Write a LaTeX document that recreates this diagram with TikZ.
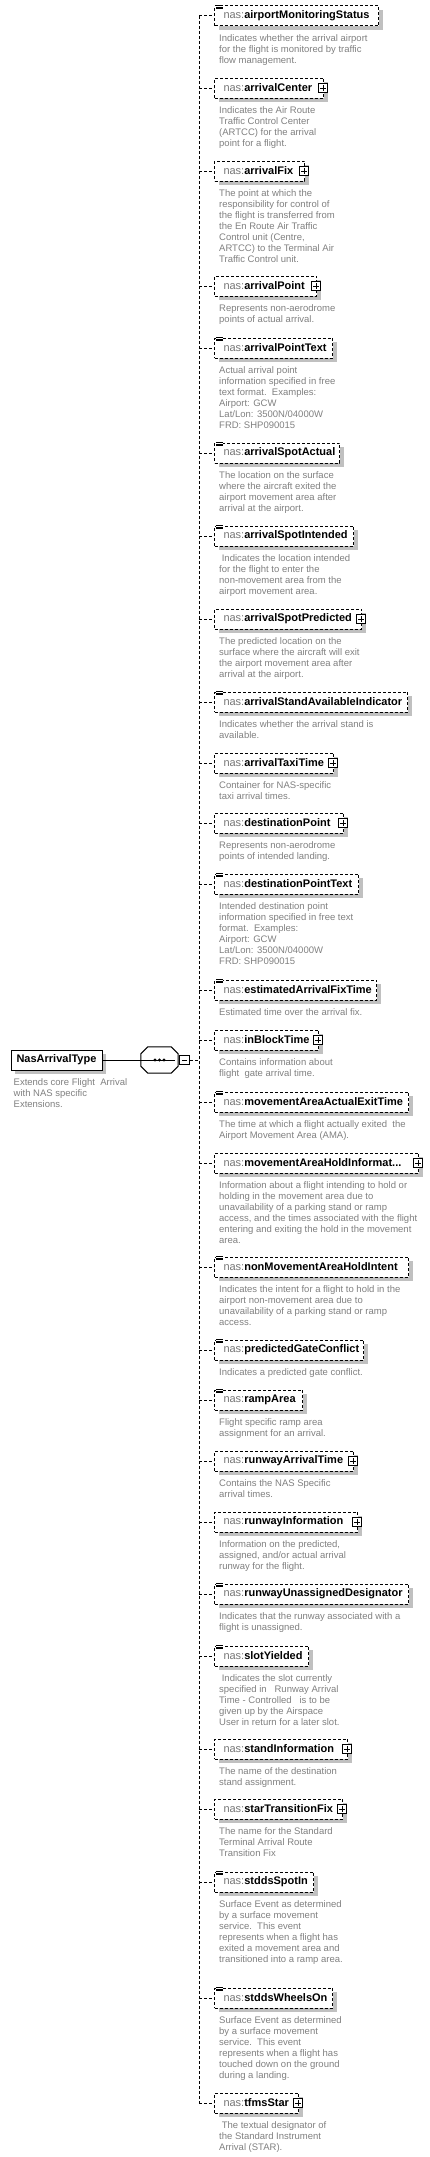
\documentclass[tikz,border=0pt]{standalone}
\usepackage{fontspec}
\setmainfont{Liberation Sans}
\usetikzlibrary{positioning,shadows}
\definecolor{nasgray}{RGB}{118,118,118}
\definecolor{descgray}{RGB}{128,128,128}
\definecolor{shadegray}{RGB}{192,192,192}

\begin{document}
\begin{tikzpicture}[
    x=1pt, y=-1pt,
    link/.style={line width=1pt, dash pattern=on 3pt off 2pt},
    shade/.style={drop shadow={shadow xshift=4pt, shadow yshift=-4pt, fill=shadegray, draw=none, opacity=1}},
    elem/.style={draw, link, fill=white, shade, anchor=west, minimum height=20pt,
      inner xsep=0pt, inner ysep=0pt, text width=#1, align=left,
      font=\fontsize{11pt}{13pt}\selectfont,
      execute at begin node={\hyphenpenalty=10000\hspace*{9pt}\textcolor{nasgray}{nas:}\bfseries}},
    desc/.style={text=descgray, align=left, inner sep=0pt, font=\fontsize{9.5pt}{11pt}\selectfont},
    plusbox/.style={draw, solid, line width=1pt, fill=white, minimum size=9.5pt, inner sep=0pt,
      path picture={\draw[solid, line width=1pt]
        ([xshift=2pt]path picture bounding box.west) -- ([xshift=-2pt]path picture bounding box.east)
        ([yshift=-2pt]path picture bounding box.north) -- ([yshift=2pt]path picture bounding box.south);}},
    minusbox/.style={draw, solid, line width=1pt, fill=white, minimum size=9.5pt, inner sep=0pt,
      path picture={\draw[solid, line width=1pt]
        ([xshift=2pt]path picture bounding box.west) -- ([xshift=-2pt]path picture bounding box.east);}},
    simplemark/.style={fill=white, minimum width=7pt, minimum height=5pt, inner sep=0pt, anchor=north west,
      path picture={\foreach \k in {0.9,2.5,4.1}
        \draw[solid, line width=0.7pt] ([yshift=-\k pt]path picture bounding box.north west) -- ([yshift=-\k pt]path picture bounding box.north east);}},
    typebox/.style={draw, solid, line width=1pt, fill=white, shade, minimum width=91pt, minimum height=20pt,
      inner sep=0pt, font=\fontsize{11pt}{13pt}\selectfont\bfseries},
    seqbox/.style={minimum width=37pt, minimum height=26pt, inner sep=0pt},
  ]
    \useasboundingbox (0,0) rectangle (430,2157);

    % Complex type and its sequence
    \node[typebox] (nasType) at (56.5,1060) {NasArrivalType};
    \node[desc, below right=8pt and 3pt of nasType.south west] (nasTypeNote) {Extends core Flight\ \ Arrival\\with NAS specific\\Extensions.};
    \node[seqbox] (seq) at (159.5,1060) {};
    \fill[shadegray, shift={(4,4)}] ([xshift=7pt]seq.north west) -- ([xshift=-7pt]seq.north east) -- ([yshift=-7pt]seq.north east)
      -- ([yshift=7pt]seq.south east) -- ([xshift=-7pt]seq.south east) -- ([xshift=7pt]seq.south west)
      -- ([yshift=7pt]seq.south west) -- ([yshift=-7pt]seq.north west) -- cycle;
    \filldraw[fill=white, line width=1pt] ([xshift=7pt]seq.north west) -- ([xshift=-7pt]seq.north east) -- ([yshift=-7pt]seq.north east)
      -- ([yshift=7pt]seq.south east) -- ([xshift=-7pt]seq.south east) -- ([xshift=7pt]seq.south west)
      -- ([yshift=7pt]seq.south west) -- ([yshift=-7pt]seq.north west) -- cycle;
    \draw[line width=1pt] (nasType.east) -- (seq.west);
    \draw[line width=1pt] (seq.west) -- ([xshift=-3pt]seq.east);
    \foreach \dx in {-4.5,0,4.5}
      \fill ([xshift=\dx pt]seq.center) circle (1.6pt);
    \node[minusbox] (seqMinus) at (184.5,1060) {};
    \coordinate (spine) at (199,1060);

    % Child elements
    \node[elem=164pt] (airportMonitoringStatus) at (214,16) {airportMonitoringStatus};
    \node[simplemark] (airportMonitoringStatusMark) at ([xshift=2pt, yshift=1pt]airportMonitoringStatus.north west) {};
    \node[desc, below right=8pt and 5pt of airportMonitoringStatus.south west] (airportMonitoringStatusNote) {Indicates whether the arrival airport\\for the flight is monitored by traffic\\flow management.};

    \node[elem=109pt] (arrivalCenter) at (214,88) {arrivalCenter};
    \node[plusbox] (arrivalCenterPlus) at ([xshift=-1pt]arrivalCenter.east) {};
    \node[desc, below right=8pt and 5pt of arrivalCenter.south west] (arrivalCenterNote) {Indicates the Air Route\\Traffic Control Center\\(ARTCC) for the arrival\\point for a flight.};

    \node[elem=90pt] (arrivalFix) at (214,171) {arrivalFix};
    \node[plusbox] (arrivalFixPlus) at ([xshift=-1pt]arrivalFix.east) {};
    \node[desc, below right=8pt and 5pt of arrivalFix.south west] (arrivalFixNote) {The point at which the\\responsibility for control of\\the flight is transferred from\\the En Route Air Traffic\\Control unit (Centre,\\ARTCC) to the Terminal Air\\Traffic Control unit.};

    \node[elem=102pt] (arrivalPoint) at (214,286) {arrivalPoint};
    \node[plusbox] (arrivalPointPlus) at ([xshift=-1pt]arrivalPoint.east) {};
    \node[desc, below right=8pt and 5pt of arrivalPoint.south west] (arrivalPointNote) {Represents non-aerodrome\\points of actual arrival.};

    \node[elem=118pt] (arrivalPointText) at (214,348) {arrivalPointText};
    \node[simplemark] (arrivalPointTextMark) at ([xshift=2pt, yshift=1pt]arrivalPointText.north west) {};
    \node[desc, below right=8pt and 5pt of arrivalPointText.south west] (arrivalPointTextNote) {Actual arrival point\\information specified in free\\text format.\ \ Examples:\\Airport: GCW\\Lat/Lon: 3500N/04000W\\FRD: SHP090015};

    \node[elem=125pt] (arrivalSpotActual) at (214,453) {arrivalSpotActual};
    \node[simplemark] (arrivalSpotActualMark) at ([xshift=2pt, yshift=1pt]arrivalSpotActual.north west) {};
    \node[desc, below right=8pt and 5pt of arrivalSpotActual.south west] (arrivalSpotActualNote) {The location on the surface\\where the aircraft exited the\\airport movement area after\\arrival at the airport.};

    \node[elem=139pt] (arrivalSpotIntended) at (214,536) {arrivalSpotIntended};
    \node[simplemark] (arrivalSpotIntendedMark) at ([xshift=2pt, yshift=1pt]arrivalSpotIntended.north west) {};
    \node[desc, below right=8pt and 5pt of arrivalSpotIntended.south west] (arrivalSpotIntendedNote) {\ Indicates the location intended\\for the flight to enter the\\non-movement area from the\\airport movement area.};

    \node[elem=147pt] (arrivalSpotPredicted) at (214,619) {arrivalSpotPredicted};
    \node[plusbox] (arrivalSpotPredictedPlus) at ([xshift=-1pt]arrivalSpotPredicted.east) {};
    \node[desc, below right=8pt and 5pt of arrivalSpotPredicted.south west] (arrivalSpotPredictedNote) {The predicted location on the\\surface where the aircraft will exit\\the airport movement area after\\arrival at the airport.};

    \node[elem=193pt] (arrivalStandAvailableIndicator) at (214,702) {arrivalStandAvailableIndicator};
    \node[simplemark] (arrivalStandAvailableIndicatorMark) at ([xshift=2pt, yshift=1pt]arrivalStandAvailableIndicator.north west) {};
    \node[desc, below right=8pt and 5pt of arrivalStandAvailableIndicator.south west] (arrivalStandAvailableIndicatorNote) {Indicates whether the arrival stand is\\available.};

    \node[elem=119pt] (arrivalTaxiTime) at (214,763) {arrivalTaxiTime};
    \node[plusbox] (arrivalTaxiTimePlus) at ([xshift=-1pt]arrivalTaxiTime.east) {};
    \node[desc, below right=8pt and 5pt of arrivalTaxiTime.south west] (arrivalTaxiTimeNote) {Container for NAS-specific\\taxi arrival times.};

    \node[elem=129pt] (destinationPoint) at (214,823) {destinationPoint};
    \node[plusbox] (destinationPointPlus) at ([xshift=-1pt]destinationPoint.east) {};
    \node[desc, below right=8pt and 5pt of destinationPoint.south west] (destinationPointNote) {Represents non-aerodrome\\points of intended landing.};

    \node[elem=144pt] (destinationPointText) at (214,884) {destinationPointText};
    \node[simplemark] (destinationPointTextMark) at ([xshift=2pt, yshift=1pt]destinationPointText.north west) {};
    \node[desc, below right=8pt and 5pt of destinationPointText.south west] (destinationPointTextNote) {Intended destination point\\information specified in free text\\format.\ \ Examples:\\Airport: GCW\\Lat/Lon: 3500N/04000W\\FRD: SHP090015};

    \node[elem=162pt] (estimatedArrivalFixTime) at (214,990) {estimatedArrivalFixTime};
    \node[simplemark] (estimatedArrivalFixTimeMark) at ([xshift=2pt, yshift=1pt]estimatedArrivalFixTime.north west) {};
    \node[desc, below right=8pt and 5pt of estimatedArrivalFixTime.south west] (estimatedArrivalFixTimeNote) {Estimated time over the arrival fix.};

    \node[elem=104pt] (inBlockTime) at (214,1040) {inBlockTime};
    \node[plusbox] (inBlockTimePlus) at ([xshift=-1pt]inBlockTime.east) {};
    \node[desc, below right=8pt and 5pt of inBlockTime.south west] (inBlockTimeNote) {Contains information about\\flight\ \ gate arrival time.};

    \node[elem=194pt] (movementAreaActualExitTime) at (214,1102) {movementAreaActualExitTime};
    \node[simplemark] (movementAreaActualExitTimeMark) at ([xshift=2pt, yshift=1pt]movementAreaActualExitTime.north west) {};
    \node[desc, below right=8pt and 5pt of movementAreaActualExitTime.south west] (movementAreaActualExitTimeNote) {The time at which a flight actually exited\ \ the\\Airport Movement Area (AMA).};

    \node[elem=204pt] (movementAreaHoldInformation) at (214,1163) {movementAreaHoldInformat...};
    \node[plusbox] (movementAreaHoldInformationPlus) at ([xshift=-1pt]movementAreaHoldInformation.east) {};
    \node[desc, below right=8pt and 5pt of movementAreaHoldInformation.south west] (movementAreaHoldInformationNote) {Information about a flight intending to hold or\\holding in the movement area due to\\unavailability of a parking stand or ramp\\access, and the times associated with the flight\\entering and exiting the hold in the movement\\area.};

    \node[elem=194pt] (nonMovementAreaHoldIntent) at (214,1267) {nonMovementAreaHoldIntent};
    \node[simplemark] (nonMovementAreaHoldIntentMark) at ([xshift=2pt, yshift=1pt]nonMovementAreaHoldIntent.north west) {};
    \node[desc, below right=8pt and 5pt of nonMovementAreaHoldIntent.south west] (nonMovementAreaHoldIntentNote) {Indicates the intent for a flight to hold in the\\airport non-movement area due to\\unavailability of a parking stand or ramp\\access.};

    \node[elem=149pt] (predictedGateConflict) at (214,1350) {predictedGateConflict};
    \node[simplemark] (predictedGateConflictMark) at ([xshift=2pt, yshift=1pt]predictedGateConflict.north west) {};
    \node[desc, below right=8pt and 5pt of predictedGateConflict.south west] (predictedGateConflictNote) {Indicates a predicted gate conflict.};

    \node[elem=88pt] (rampArea) at (214,1400) {rampArea};
    \node[simplemark] (rampAreaMark) at ([xshift=2pt, yshift=1pt]rampArea.north west) {};
    \node[desc, below right=8pt and 5pt of rampArea.south west] (rampAreaNote) {Flight specific ramp area\\assignment for an arrival.};

    \node[elem=139pt] (runwayArrivalTime) at (214,1461) {runwayArrivalTime};
    \node[plusbox] (runwayArrivalTimePlus) at ([xshift=-1pt]runwayArrivalTime.east) {};
    \node[desc, below right=8pt and 5pt of runwayArrivalTime.south west] (runwayArrivalTimeNote) {Contains the NAS Specific\\arrival times.};

    \node[elem=143pt] (runwayInformation) at (214,1522) {runwayInformation};
    \node[plusbox] (runwayInformationPlus) at ([xshift=-1pt]runwayInformation.east) {};
    \node[desc, below right=8pt and 5pt of runwayInformation.south west] (runwayInformationNote) {Information on the predicted,\\assigned, and/or actual arrival\\runway for the flight.};

    \node[elem=194pt] (runwayUnassignedDesignator) at (214,1594) {runwayUnassignedDesignator};
    \node[simplemark] (runwayUnassignedDesignatorMark) at ([xshift=2pt, yshift=1pt]runwayUnassignedDesignator.north west) {};
    \node[desc, below right=8pt and 5pt of runwayUnassignedDesignator.south west] (runwayUnassignedDesignatorNote) {Indicates that the runway associated with a\\flight is unassigned.};

    \node[elem=94pt] (slotYielded) at (214,1656) {slotYielded};
    \node[simplemark] (slotYieldedMark) at ([xshift=2pt, yshift=1pt]slotYielded.north west) {};
    \node[desc, below right=8pt and 5pt of slotYielded.south west] (slotYieldedNote) {\ Indicates the slot currently\\specified in\ \ \ Runway Arrival\\Time - Controlled\ \ \ is to be\\given up by the Airspace\\User in return for a later slot.};

    \node[elem=133pt] (standInformation) at (214,1749) {standInformation};
    \node[plusbox] (standInformationPlus) at ([xshift=-1pt]standInformation.east) {};
    \node[desc, below right=8pt and 5pt of standInformation.south west] (standInformationNote) {The name of the destination\\stand assignment.};

    \node[elem=128pt] (starTransitionFix) at (214,1809) {starTransitionFix};
    \node[plusbox] (starTransitionFixPlus) at ([xshift=-1pt]starTransitionFix.east) {};
    \node[desc, below right=8pt and 5pt of starTransitionFix.south west] (starTransitionFixNote) {The name for the Standard\\Terminal Arrival Route\\Transition Fix};

    \node[elem=99pt] (stddsSpotIn) at (214,1882) {stddsSpotIn};
    \node[simplemark] (stddsSpotInMark) at ([xshift=2pt, yshift=1pt]stddsSpotIn.north west) {};
    \node[desc, below right=8pt and 5pt of stddsSpotIn.south west] (stddsSpotInNote) {Surface Event as determined\\by a surface movement\\service.\ \ This event\\represents when a flight has\\exited a movement area and\\transitioned into a ramp area.};

    \node[elem=118pt] (stddsWheelsOn) at (214,1998) {stddsWheelsOn};
    \node[simplemark] (stddsWheelsOnMark) at ([xshift=2pt, yshift=1pt]stddsWheelsOn.north west) {};
    \node[desc, below right=8pt and 5pt of stddsWheelsOn.south west] (stddsWheelsOnNote) {Surface Event as determined\\by a surface movement\\service.\ \ This event\\represents when a flight has\\touched down on the ground\\during a landing.};

    \node[elem=84pt] (tfmsStar) at (214,2103) {tfmsStar};
    \node[plusbox] (tfmsStarPlus) at ([xshift=-1pt]tfmsStar.east) {};
    \node[desc, below right=8pt and 5pt of tfmsStar.south west] (tfmsStarNote) {\ The textual designator of\\the Standard Instrument\\Arrival (STAR).};

    % Sequence connectors
    \draw[link] (seqMinus.east) -- (spine);
    \draw[link] (spine |- airportMonitoringStatus.west) -- (spine |- tfmsStar.west);
    \foreach \e in {airportMonitoringStatus, arrivalCenter, arrivalFix, arrivalPoint, arrivalPointText,
        arrivalSpotActual, arrivalSpotIntended, arrivalSpotPredicted, arrivalStandAvailableIndicator,
        arrivalTaxiTime, destinationPoint, destinationPointText, estimatedArrivalFixTime, inBlockTime,
        movementAreaActualExitTime, movementAreaHoldInformation, nonMovementAreaHoldIntent,
        predictedGateConflict, rampArea, runwayArrivalTime, runwayInformation,
        runwayUnassignedDesignator, slotYielded, standInformation, starTransitionFix,
        stddsSpotIn, stddsWheelsOn, tfmsStar}
      \draw[link] (spine |- \e.west) -- (\e.west);
  \end{tikzpicture}
\end{document}
